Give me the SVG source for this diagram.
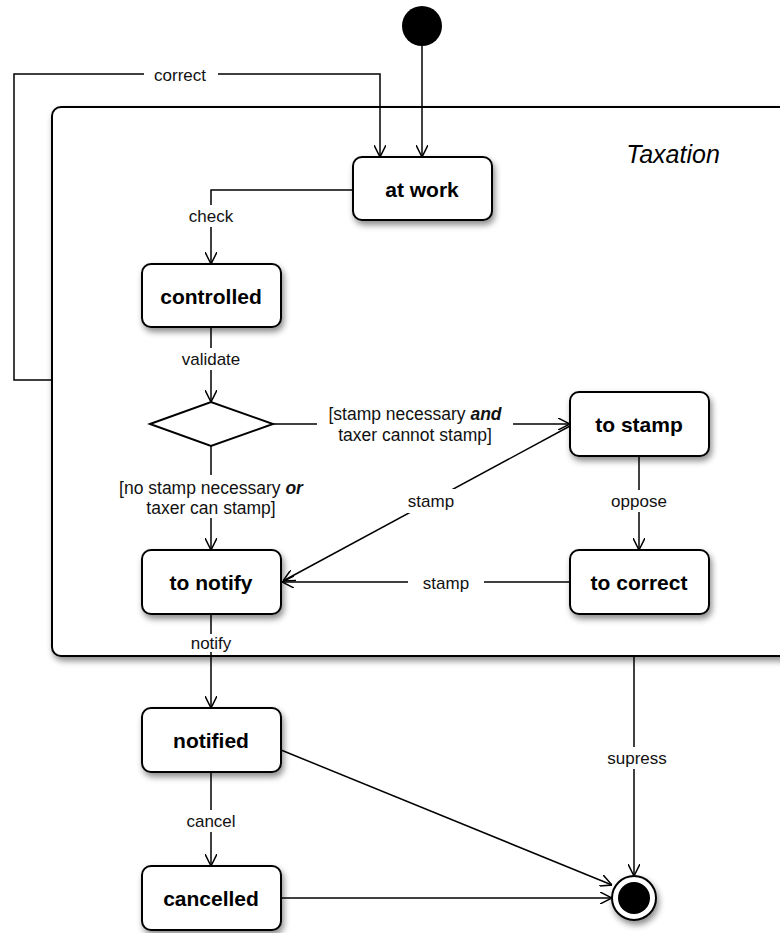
<svg xmlns="http://www.w3.org/2000/svg" width="780" height="933" viewBox="0 0 780 933">
<style>
.node{fill:#fff;stroke:#000;stroke-width:2;filter:url(#sh)}
.nt{font-family:"Liberation Sans",Arial,sans-serif;font-weight:bold;font-size:21px;text-anchor:middle;fill:#000}
.lbl{font-family:"Liberation Sans",Arial,sans-serif;font-size:17px;text-anchor:middle;fill:#111}
.lg{font-size:17.5px}
.ln{fill:none;stroke:#000;stroke-width:1.5}
.bg{fill:#fff;stroke:none}
</style>
<defs>
<filter id="sh" x="-20%" y="-20%" width="150%" height="150%">
<feDropShadow dx="2" dy="4" stdDeviation="3" flood-color="#000" flood-opacity="0.45"/>
</filter>
<marker id="ar" viewBox="0 0 12 12" refX="12" refY="6" markerWidth="12" markerHeight="12" markerUnits="userSpaceOnUse" orient="auto">
<path d="M0,0 L12,6 L0,12" fill="none" stroke="#000" stroke-width="1.5"/>
</marker>
</defs>
<rect width="780" height="933" fill="#fff"/>
<g id="taxation">
<rect x="52" y="107" width="760" height="549" rx="9" class="node"/>
<text x="673" y="163" font-family="Liberation Sans,Arial,sans-serif" font-style="italic" font-size="25" text-anchor="middle">Taxation</text>
</g>
<g id="connectors">
<path class="ln" d="M422,46 V157" marker-end="url(#ar)"/>
<path class="ln" d="M52,380 H14 V74 H380 V157" marker-end="url(#ar)"/>
<rect class="bg" x="144" y="64" width="74" height="20"/>
<text class="lbl" x="180" y="81">correct</text>
<path class="ln" d="M353,190 H211 V264" marker-end="url(#ar)"/>
<rect class="bg" x="182" y="205" width="58" height="22"/>
<text class="lbl" x="211" y="222">check</text>
<path class="ln" d="M211,327 V402" marker-end="url(#ar)"/>
<rect class="bg" x="173" y="348" width="76" height="22"/>
<text class="lbl" x="211" y="365">validate</text>
<path class="ln" d="M273,424 H570" marker-end="url(#ar)"/>
<rect class="bg" x="317" y="403" width="196" height="44"/>
<text class="lbl lg" x="415" y="420">[stamp necessary <tspan font-weight="bold" font-style="italic">and</tspan></text>
<text class="lbl lg" x="415" y="441">taxer cannot stamp]</text>
<path class="ln" d="M211,446 V550" marker-end="url(#ar)"/>
<rect class="bg" x="108" y="475" width="206" height="43"/>
<text class="lbl lg" x="211" y="494">[no stamp necessary <tspan font-weight="bold" font-style="italic">or</tspan></text>
<text class="lbl lg" x="211" y="514">taxer can stamp]</text>
<path class="ln" d="M570,426 L283,581" marker-end="url(#ar)"/>
<rect class="bg" x="401" y="489" width="60" height="24"/>
<text class="lbl" x="431" y="507">stamp</text>
<path class="ln" d="M570,582 H282" marker-end="url(#ar)"/>
<rect class="bg" x="408" y="572" width="76" height="22"/>
<text class="lbl" x="446" y="589">stamp</text>
<path class="ln" d="M639,456 V550" marker-end="url(#ar)"/>
<rect class="bg" x="603" y="490" width="72" height="22"/>
<text class="lbl" x="639" y="507">oppose</text>
<path class="ln" d="M211,614 V708" marker-end="url(#ar)"/>
<rect class="bg" x="186" y="634" width="50" height="18"/>
<text class="lbl" x="211" y="649">notify</text>
<path class="ln" d="M211,772 V866" marker-end="url(#ar)"/>
<rect class="bg" x="180" y="810" width="62" height="22"/>
<text class="lbl" x="211" y="827">cancel</text>
<path class="ln" d="M634,656 V876" marker-end="url(#ar)"/>
<rect class="bg" x="601" y="747" width="70" height="22"/>
<text class="lbl" x="637" y="764">supress</text>
<path class="ln" d="M281,750 L612,885" marker-end="url(#ar)"/>
<path class="ln" d="M281,898 H612" marker-end="url(#ar)"/>
</g>
<g id="initial"><circle cx="422" cy="26" r="20" fill="#000"/></g>
<g id="final">
<circle cx="634" cy="898" r="22" fill="#fff" stroke="#000" stroke-width="2" filter="url(#sh)"/>
<circle cx="634" cy="898" r="16" fill="#000"/>
</g>
<g id="at-work"><rect class="node" x="353" y="157" width="139" height="63" rx="9"/><text class="nt" x="422" y="197">at work</text></g>
<g id="controlled"><rect class="node" x="142" y="264" width="139" height="63" rx="9"/><text class="nt" x="211" y="304">controlled</text></g>
<g id="decision"><polygon points="150,424 211,402 273,424 211,446" fill="#fff" stroke="#000" stroke-width="2"/></g>
<g id="to-stamp"><rect class="node" x="570" y="392" width="139" height="64" rx="9"/><text class="nt" x="639" y="432">to stamp</text></g>
<g id="to-notify"><rect class="node" x="142" y="550" width="139" height="64" rx="9"/><text class="nt" x="211" y="590">to notify</text></g>
<g id="to-correct"><rect class="node" x="570" y="550" width="139" height="64" rx="9"/><text class="nt" x="639" y="590">to correct</text></g>
<g id="notified"><rect class="node" x="142" y="708" width="139" height="64" rx="9"/><text class="nt" x="211" y="748">notified</text></g>
<g id="cancelled"><rect class="node" x="142" y="866" width="139" height="64" rx="9"/><text class="nt" x="211" y="906">cancelled</text></g>
</svg>
